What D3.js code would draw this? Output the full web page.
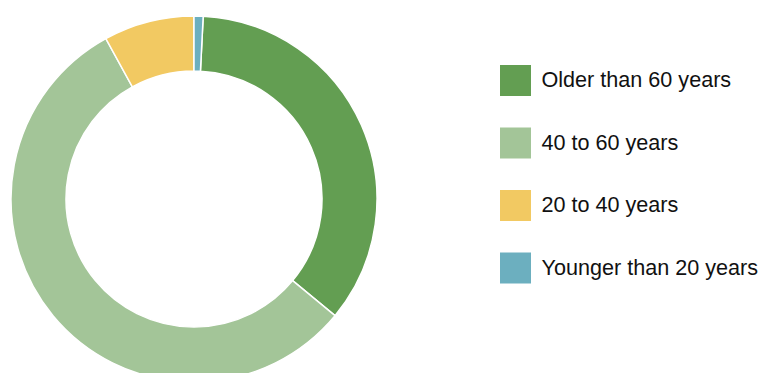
<!DOCTYPE html>
<html>
<head>
<meta charset="utf-8">
<script src="https://cdn.jsdelivr.net/npm/d3@7/dist/d3.min.js"></script>
<style>
  html, body { margin: 0; padding: 0; background: #fff; }
  svg { display: block; }
</style>
</head>
<body>
<svg id="chart" width="761" height="373"></svg>
<script>
const categories = ["Older than 60 years", "40 to 60 years", "20 to 40 years", "Younger than 20 years"];
const values = [35.2, 56.0, 8.0, 0.8];
const colors = ["#639e52", "#a3c598", "#f2c962", "#6cafbf"];

const svg = d3.select("#chart");
const cx = 194, cy = 199, outerR = 183, innerR = 128;

const data = categories.map((c, i) => ({ category: c, value: values[i], color: colors[i] }));
const total = d3.sum(values);
const offset = (values[values.length - 1] / total) * 2 * Math.PI;

const pie = d3.pie().sort(null).value(d => d.value)
  .startAngle(offset).endAngle(offset + 2 * Math.PI);
const arc = d3.arc().innerRadius(innerR).outerRadius(outerR);

svg.append("g").attr("transform", `translate(${cx},${cy})`)
  .selectAll("path")
  .data(pie(data))
  .join("path")
  .attr("d", arc)
  .attr("fill", d => d.data.color)
  .attr("stroke", "#fff")
  .attr("stroke-width", 1.5);

const legend = svg.append("g").attr("transform", "translate(500,65)");
const row = legend.selectAll("g").data(data).join("g")
  .attr("transform", (d, i) => `translate(0,${i * 62.5})`);
row.append("rect").attr("width", 31).attr("height", 31).attr("fill", d => d.color);
row.append("text")
  .attr("x", 41.5).attr("y", 14.5)
  .attr("dy", "0.35em")
  .attr("font-family", "Liberation Sans, Arial, sans-serif")
  .attr("font-size", 21.6)
  .attr("fill", "#111")
  .text(d => d.category);
</script>
</body>
</html>
